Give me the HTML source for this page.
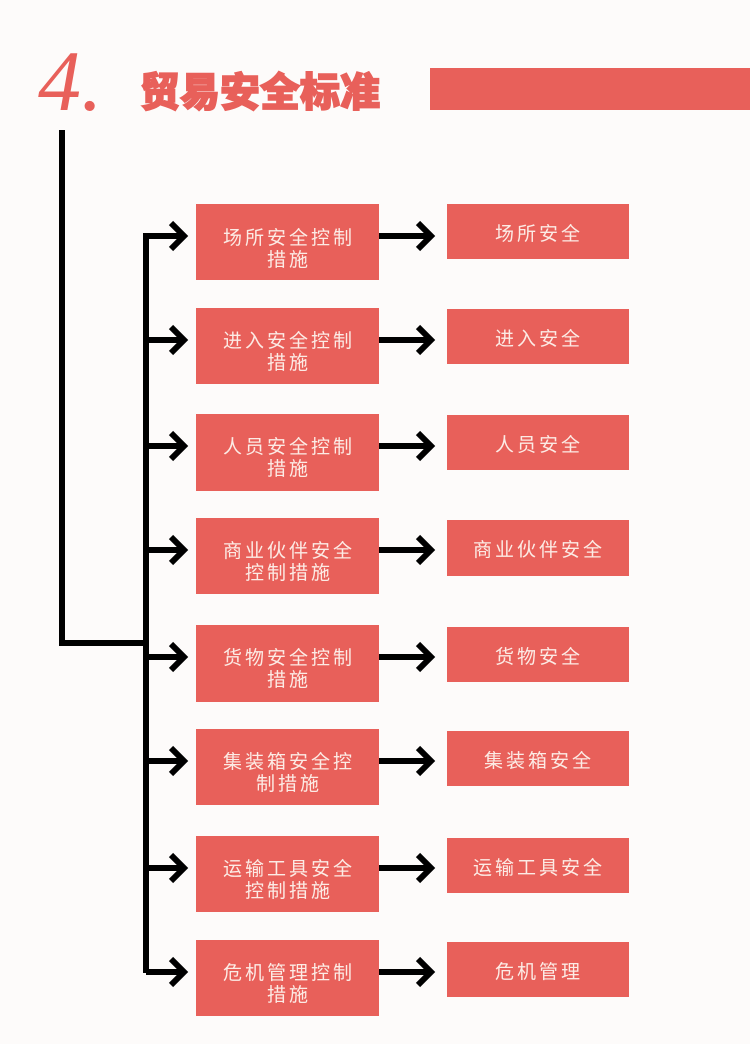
<!DOCTYPE html>
<html><head><meta charset="utf-8"><style>
body{margin:0;background:#fdfbfa;}
svg{display:block}
.t{font-family:"Liberation Sans","Noto Sans CJK SC",sans-serif;fill:#fcebe5;font-size:19px;letter-spacing:3px;text-anchor:middle}
</style></head><body>
<svg width="750" height="1044" viewBox="0 0 750 1044" xmlns="http://www.w3.org/2000/svg">
<rect width="750" height="1044" fill="#fdfbfa"/>
<text x="38" y="110" font-family="Liberation Serif,serif" font-style="italic" font-size="86" fill="#e8605a">4.</text>
<text x="140" y="106" font-family="'Liberation Sans','Noto Sans CJK SC',sans-serif" font-weight="900" font-size="40" fill="#e8605a" stroke="#e8605a" stroke-width="1.5">贸易安全标准</text>
<rect x="430" y="68" width="320" height="42" fill="#e8605a"/>
<g stroke="#000" stroke-width="6" fill="none">
<polyline points="62,130 62,643 146,643"/>
<line x1="146" y1="233" x2="146" y2="973"/>
</g>
<g id="rows"></g>
<g stroke="#000" stroke-width="6" fill="none" stroke-linecap="butt">
<path d="M146 236H184M171 223L184 236L171 249M379 236H431M418 223L431 236L418 249"/>
<path d="M146 340H184M171 327L184 340L171 353M379 340H431M418 327L431 340L418 353"/>
<path d="M146 446H184M171 433L184 446L171 459M379 446H431M418 433L431 446L418 459"/>
<path d="M146 550H184M171 537L184 550L171 563M379 550H431M418 537L431 550L418 563"/>
<path d="M146 657H184M171 644L184 657L171 670M379 657H431M418 644L431 657L418 670"/>
<path d="M146 761H184M171 748L184 761L171 774M379 761H431M418 748L431 761L418 774"/>
<path d="M146 868H184M171 855L184 868L171 881M379 868H431M418 855L431 868L418 881"/>
<path d="M146 972H184M171 959L184 972L171 985M379 972H431M418 959L431 972L418 985"/>
</g>
<g fill="#e8605a">
<rect x="196" y="204" width="183" height="76"/><rect x="447" y="204" width="182" height="55"/>
<rect x="196" y="308" width="183" height="76"/><rect x="447" y="309" width="182" height="55"/>
<rect x="196" y="414" width="183" height="77"/><rect x="447" y="415" width="182" height="55"/>
<rect x="196" y="518" width="183" height="76"/><rect x="447" y="520" width="182" height="56"/>
<rect x="196" y="625" width="183" height="77"/><rect x="447" y="627" width="182" height="55"/>
<rect x="196" y="729" width="183" height="76"/><rect x="447" y="731" width="182" height="55"/>
<rect x="196" y="836" width="183" height="76"/><rect x="447" y="838" width="182" height="55"/>
<rect x="196" y="940" width="183" height="76"/><rect x="447" y="942" width="182" height="55"/>
</g>
<g class="t">
<text class="t" x="289" y="244">场所安全控制</text><text class="t" x="289" y="266">措施</text><text class="t" x="539" y="240">场所安全</text>
<text class="t" x="289" y="347">进入安全控制</text><text class="t" x="289" y="369">措施</text><text class="t" x="539" y="345">进入安全</text>
<text class="t" x="289" y="453">人员安全控制</text><text class="t" x="289" y="475">措施</text><text class="t" x="539" y="451">人员安全</text>
<text class="t" x="289" y="557">商业伙伴安全</text><text class="t" x="289" y="579">控制措施</text><text class="t" x="539" y="556">商业伙伴安全</text>
<text class="t" x="289" y="664">货物安全控制</text><text class="t" x="289" y="686">措施</text><text class="t" x="539" y="663">货物安全</text>
<text class="t" x="289" y="768">集装箱安全控</text><text class="t" x="289" y="790">制措施</text><text class="t" x="539" y="767">集装箱安全</text>
<text class="t" x="289" y="875">运输工具安全</text><text class="t" x="289" y="897">控制措施</text><text class="t" x="539" y="874">运输工具安全</text>
<text class="t" x="289" y="979">危机管理控制</text><text class="t" x="289" y="1001">措施</text><text class="t" x="539" y="978">危机管理</text>
</g>
</svg>
</body></html>
